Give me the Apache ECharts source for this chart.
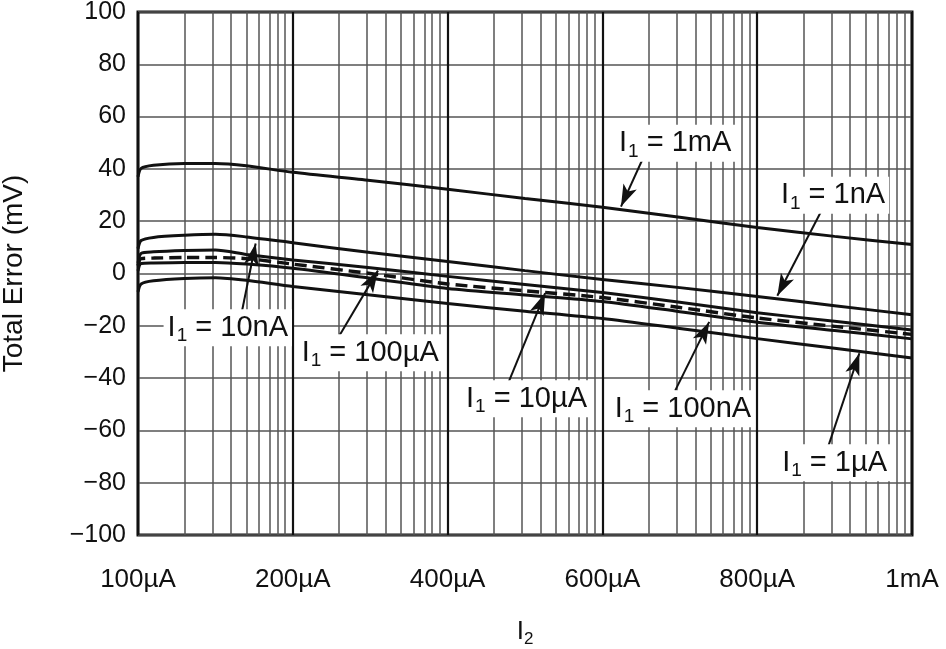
<!DOCTYPE html>
<html><head><meta charset="utf-8">
<script src="https://cdn.jsdelivr.net/npm/echarts@6/dist/echarts.min.js"></script>
<style>html,body{margin:0;padding:0;background:#fff}#c{width:946px;height:649px}</style>
</head><body><div id="c"></div>
<script>
// x positions: index along the 5 equal sections (0 = 100µA ... 5 = 1mA)
const xTickLabels = ['100µA', '200µA', '400µA', '600µA', '800µA', '1mA'];
const xs = [0, 0.02, 0.1, 0.3, 0.5, 0.7, 1.0, 1.5, 2.0, 2.5, 3.0, 3.5, 4.0, 4.5, 5.0];

const curve1mA   = [37.0, 40.2, 41.4, 42.1, 42.1, 41.2, 38.7, 35.6, 32.2, 28.7, 25.3, 21.5, 17.6, 14.2, 11.1];
const curve1nA   = [9.5, 12.6, 13.8, 14.6, 15.0, 14.0, 11.8, 8.0, 4.6, 1.1, -2.3, -5.4, -8.8, -12.3, -15.8];
const curve10nA  = [4.0, 7.7, 8.3, 8.8, 9.0, 7.3, 5.2, 2.2, -1.1, -4.2, -7.3, -11.0, -15.0, -18.3, -21.6];
const curve100uA = [3.0, 5.7, 5.9, 6.1, 6.1, 5.7, 3.6, 0.0, -4.0, -6.6, -9.2, -13.0, -17.0, -20.2, -23.3];
const curve10uA  = [1.0, 3.8, 4.0, 4.2, 4.2, 3.6, 2.0, -1.8, -5.7, -8.2, -10.7, -14.6, -18.6, -21.8, -25.0];
const curve1uA   = [-7.0, -4.0, -2.8, -1.9, -1.6, -2.6, -5.0, -8.2, -11.5, -14.4, -17.2, -21.0, -24.9, -28.6, -32.3];

const labelNames = ['1mA', '1nA', '10nA', '100µA', '10µA', '100nA', '1µA'];
const labelAt    = [[3.47, 49.8], [4.49, 29.9], [0.58, -20.7], [1.50, -30.3], [2.51, -47.9], [3.52, -51.7], [4.50, -72.4]];
const arrowFrom  = [[3.26, 43.8], [4.41, 23.4], [0.67, -14.9], [1.29, -24.9], [2.39, -42.1], [3.47, -44.8], [4.46, -65.9]];
const arrowTo    = [[3.12, 25.6], [4.13, -8.5], [0.76, 11.5], [1.55, 1.1], [2.63, -7.5], [3.69, -18.5], [4.66, -30.5]];

const FONT = 'Liberation Sans, Arial, sans-serif';
const INK = '#111';

const minorXs = [];
for (let d = 0; d < 5; d++) for (let k = 2; k <= 9; k++) minorXs.push(d + Math.log10(k));

function pts(arr) { return xs.map((x, i) => [x, arr[i]]); }
function curve(name, arr, dashed) {
  return {
    name, type: 'line', data: pts(arr), showSymbol: false, smooth: 0.25, z: 5, silent: true,
    lineStyle: { color: INK, width: dashed ? 3.4 : 3, type: dashed ? [12, 6] : 'solid' }
  };
}

const chart = echarts.init(document.getElementById('c'));
chart.setOption({
  animation: false,
  backgroundColor: '#fff',
  grid: { left: 138, right: 34, top: 12, bottom: 114, containLabel: false, outerBoundsMode: 'none',
          show: true, borderColor: INK, borderWidth: 3, backgroundColor: 'transparent' },
  xAxis: {
    type: 'value', min: 0, max: 5, interval: 1,
    axisLine: { show: false }, axisTick: { show: false },
    splitLine: { show: true, lineStyle: { color: INK, width: 2.2 } },
    axisLabel: { margin: 32, fontSize: 26, fontFamily: FONT, color: INK, formatter: v => xTickLabels[Math.round(v)] },
    name: '{a|I}{s|2}', nameLocation: 'middle', nameGap: 80,
    nameTextStyle: { rich: { a: { fontSize: 26, fontFamily: FONT, color: INK }, s: { fontSize: 17, fontFamily: FONT, color: INK, padding: [16, 0, 0, 0] } } }
  },
  yAxis: {
    type: 'value', min: -100, max: 100, interval: 20,
    axisLine: { show: false }, axisTick: { show: false },
    splitLine: { show: true, lineStyle: { color: '#555', width: 1.5 } },
    axisLabel: { margin: 12, fontSize: 25, fontFamily: FONT, color: INK, formatter: v => String(v).replace('-', '\u2212') },
    name: 'Total Error (mV)', nameLocation: 'middle', nameGap: 110, nameRotate: 90,
    nameTextStyle: { fontSize: 28, fontFamily: FONT, color: INK }
  },
  series: [
    {
      name: 'minorGrid', type: 'line', data: [], silent: true, z: 1,
      markLine: {
        silent: true, symbol: ['none', 'none'], label: { show: false }, animation: false,
        lineStyle: { color: '#555', width: 1.5, type: 'solid' },
        data: minorXs.map(x => ({ xAxis: x }))
      }
    },
    curve('I1 = 1mA', curve1mA),
    curve('I1 = 1nA', curve1nA),
    curve('I1 = 10nA', curve10nA),
    curve('I1 = 100µA', curve100uA, true),
    curve('I1 = 10µA', curve10uA),
    curve('I1 = 1µA', curve1uA),
    {
      name: 'arrows', type: 'line', data: [], silent: true, z: 6,
      markLine: {
        silent: true, animation: false, symbol: ['none', 'arrow'], symbolSize: [11, 22],
        label: { show: false },
        lineStyle: { color: INK, width: 2, type: 'solid' },
        data: arrowFrom.map((f, i) => [{ coord: f }, { coord: arrowTo[i] }])
      }
    },
    {
      name: 'labels', type: 'scatter', silent: true, z: 8, symbolSize: 1,
      itemStyle: { color: 'rgba(0,0,0,0)', opacity: 1 },
      data: labelNames.map((n, i) => ({
        value: labelAt[i],
        label: { formatter: '{a|I}{s|1}{a| = ' + n + '}' }
      })),
      label: {
        show: true, position: 'inside', backgroundColor: '#ffffff', opacity: 1, padding: [1, 4, 1, 4],
        rich: {
          a: { fontSize: 29, fontFamily: FONT, color: INK },
          s: { fontSize: 19, fontFamily: FONT, color: INK, padding: [16, 0, 0, 1] }
        }
      }
    }
  ]
});
</script>
</body></html>
